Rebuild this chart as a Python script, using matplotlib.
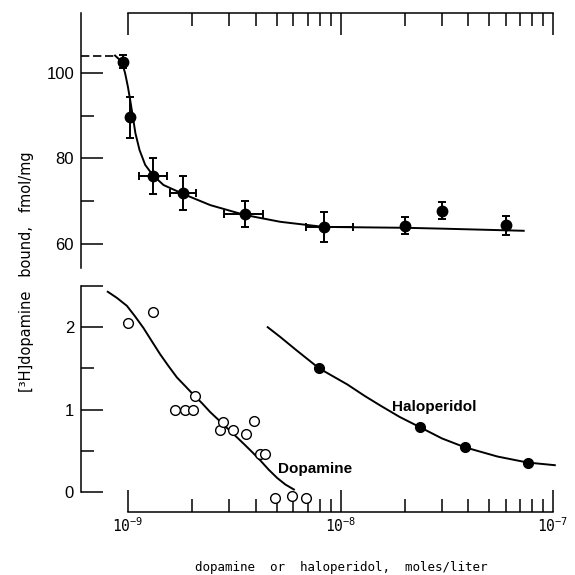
import matplotlib
matplotlib.use('Agg')
import matplotlib.pyplot as plt
from matplotlib import ticker

# верхняя панель: связывание [3H]дофамина
top_x = [0.95e-9, 1.02e-9, 1.31e-9, 1.82e-9, 3.54e-9, 8.34e-9, 2.01e-8, 3.0e-8, 6.02e-8]
top_y = [102.6, 89.6, 75.9, 71.9, 67.1, 64.05, 64.3, 67.8, 64.4]
top_yerr = [1.5, 4.7, 4.3, 4.0, 3.0, 3.5, 2.0, 2.0, 2.2]
# горизонтальные ошибки только у части точек
xerr_x = [1.31e-9, 1.82e-9, 3.54e-9, 8.34e-9]
xerr_y = [75.9, 71.9, 67.1, 64.05]
xerr_lo = [0.18e-9, 0.254e-9, 0.72e-9, 1.43e-9]
xerr_hi = [0.21e-9, 0.27e-9, 0.78e-9, 3.14e-9]

plateau_y = 104.05
fit_top_x = [0.868e-9, 0.934e-9, 0.968e-9, 0.997e-9, 1.022e-9, 1.052e-9, 1.082e-9,
             1.131e-9, 1.203e-9, 1.307e-9, 1.467e-9, 1.817e-9, 2.436e-9, 3.54e-9,
             5.2e-9, 8.34e-9, 2.01e-8, 3.0e-8, 7.28e-8]
fit_top_y = [104.05, 102.6, 99.9, 96.8, 93.7, 89.8, 85.9, 82.0, 78.5, 76.1, 73.8,
             71.7, 69.1, 66.8, 65.2, 64.0, 63.8, 63.6, 63.1]

# нижняя панель: дофамин и галоперидол
dop_x = [0.997e-9, 1.31e-9, 1.66e-9, 1.86e-9, 2.02e-9, 2.07e-9, 2.71e-9, 2.79e-9,
         3.12e-9, 3.59e-9, 3.91e-9, 4.19e-9, 4.39e-9, 4.9e-9, 5.88e-9, 6.84e-9]
dop_y = [2.05, 2.19, 0.99, 0.99, 1.0, 1.16, 0.75, 0.85, 0.75, 0.70, 0.86, 0.46,
         0.46, -0.07, -0.05, -0.07]
dop_fit_x = [8.02e-10, 8.84e-10, 9.86e-10, 1.079e-9, 1.181e-9, 1.294e-9, 1.416e-9,
             1.549e-9, 1.697e-9, 1.857e-9, 2.03e-9, 2.228e-9, 2.435e-9, 2.668e-9,
             2.92e-9, 3.198e-9, 3.5e-9, 3.833e-9, 4.2e-9, 4.59e-9, 5.03e-9, 5.5e-9,
             6.03e-9]
dop_fit_y = [2.43, 2.357, 2.26, 2.13, 1.99, 1.828, 1.67, 1.528, 1.39, 1.285, 1.18,
             1.077, 0.969, 0.873, 0.777, 0.681, 0.585, 0.485, 0.38, 0.27, 0.17, 0.09,
             0.03]

hal_x = [7.93e-9, 2.37e-8, 3.85e-8, 7.6e-8]
hal_y = [1.5, 0.785, 0.542, 0.357]
hal_fit_x = [4.54e-9, 5.21e-9, 6.2e-9, 7.93e-9, 1.076e-8, 1.3e-8, 1.546e-8, 1.9e-8,
             2.37e-8, 3.0e-8, 3.85e-8, 5.48e-8, 7.6e-8, 1.02e-7]
hal_fit_y = [2.0, 1.88, 1.72, 1.5, 1.305, 1.165, 1.046, 0.91, 0.785, 0.65, 0.542,
             0.43, 0.357, 0.325]

xlim = (6.0e-10, 1.079e-7)
minor_x = [m * 10.0 ** e for e in (-9, -8) for m in range(2, 10)]

fig = plt.figure(figsize=(5.75, 5.75), dpi=100)
ax1 = fig.add_axes([0.1409, 0.5339, 0.833, 0.4435])
ax2 = fig.add_axes([0.1409, 0.1096, 0.833, 0.3930])

lw = 1.1
for ax in (ax1, ax2):
    ax.set_xscale('log')
    ax.set_xlim(*xlim)
    ax.spines['right'].set_visible(False)
    ax.spines['left'].set_linewidth(lw)
    ax.xaxis.set_major_locator(ticker.FixedLocator([1e-9, 1e-8, 1e-7]))
    ax.xaxis.set_minor_locator(ticker.FixedLocator(minor_x))
    ax.tick_params(which='both', direction='in', width=lw)
    ax.tick_params(which='major', length=15.5)
    ax.tick_params(which='minor', length=9.4)
    ax.tick_params(axis='y', labelsize=12, labelfontfamily='Liberation Sans', pad=5)

# --- верх ---
ax1.set_ylim(54.4, 114.0)
ax1.spines['bottom'].set_visible(False)
ax1.spines['top'].set_bounds(1e-9, 1e-7)
ax1.spines['top'].set_linewidth(lw)
ax1.xaxis.tick_top()
ax1.tick_params(axis='x', which='both', labeltop=False)
ax1.yaxis.set_major_locator(ticker.FixedLocator([60, 80, 100]))
ax1.yaxis.set_minor_locator(ticker.FixedLocator([70, 90]))

ax1.plot([xlim[0], fit_top_x[0]], [plateau_y, plateau_y], color='black', lw=1.2,
         linestyle=(0, (5, 2.2)))
ax1.plot(fit_top_x, fit_top_y, color='black', lw=1.4)
ax1.errorbar(top_x, top_y, yerr=top_yerr, fmt='o', color='black', ms=7.5,
             elinewidth=1.4, capsize=3, capthick=1.4, zorder=3)
ax1.errorbar(xerr_x, xerr_y, xerr=[xerr_lo, xerr_hi], fmt='none', ecolor='black',
             elinewidth=1.4, capsize=3, capthick=1.4, zorder=3)

# --- низ ---
ax2.set_ylim(-0.243, 2.5)
ax2.spines['top'].set_visible(False)
ax2.spines['left'].set_bounds(0, 2.5)
ax2.spines['bottom'].set_bounds(1e-9, 1e-7)
ax2.spines['bottom'].set_linewidth(lw)
ax2.yaxis.set_major_locator(ticker.FixedLocator([0, 1, 2, 2.5]))
ax2.yaxis.set_major_formatter(ticker.FixedFormatter(['0', '1', '2', '']))
ax2.yaxis.set_minor_locator(ticker.FixedLocator([0.5, 1.5]))
ax2.xaxis.set_major_formatter(ticker.LogFormatterSciNotation())
ax2.xaxis.set_minor_formatter(ticker.NullFormatter())
ax2.tick_params(axis='x', labelsize=10.5, labelfontfamily='DejaVu Sans Mono', pad=3)

ax2.plot(dop_fit_x, dop_fit_y, color='black', lw=1.4)
ax2.plot(hal_fit_x, hal_fit_y, color='black', lw=1.4)
ax2.plot(dop_x, dop_y, 'o', mfc='white', mec='black', mew=1.0, ms=7, clip_on=False,
         zorder=3)
ax2.plot(hal_x, hal_y, 'o', color='black', ms=7, zorder=3)

ax2.text(2.75e-8, 1.03, 'Haloperidol', ha='center', va='center', fontsize=11,
         fontweight='bold', family='Liberation Sans')
ax2.text(7.62e-9, 0.28, 'Dopamine', ha='center', va='center', fontsize=11,
         fontweight='bold', family='Liberation Sans')

fig.text(341.7 / 575, 1 - 568 / 575, 'dopamine  or  haloperidol,  moles/liter',
         ha='center', va='center', fontsize=9, family='DejaVu Sans Mono')
fig.text(27 / 575, 1 - 272 / 575, '[³H]dopamine   bound,   fmol/mg', rotation=90,
         ha='center', va='center', fontsize=10.5, family='DejaVu Sans')

fig.savefig('out.png', dpi=100)
plt.close()
